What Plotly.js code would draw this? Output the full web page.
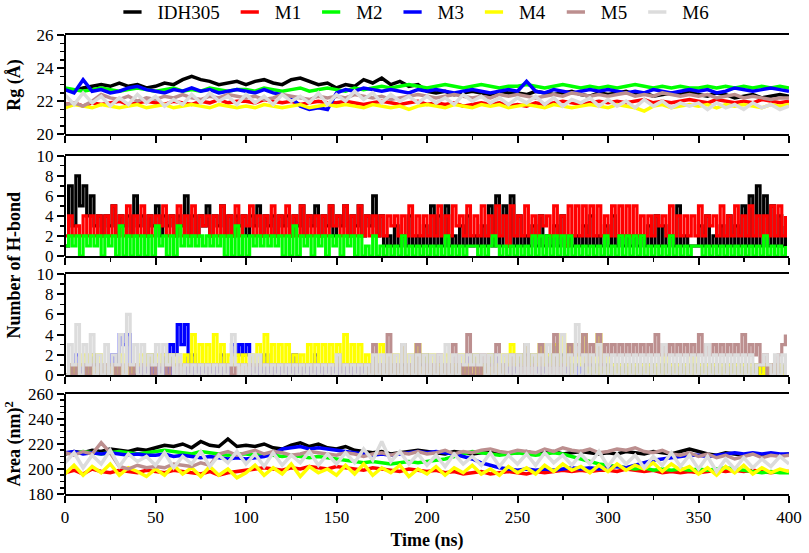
<!DOCTYPE html>
<html>
<head>
<meta charset="utf-8">
<script src="https://cdn.plot.ly/plotly-3.0.1.min.js"></script>
<style>
html, body { margin: 0; padding: 0; background: #fff; }
#chart { width: 809px; height: 553px; }
</style>
</head>
<body>
<div id="chart"></div>
<script>
var names = ['IDH305', 'M1', 'M2', 'M3', 'M4', 'M5', 'M6'];
var colors = ['#000000', '#ff0000', '#00ff00', '#0000ff', '#ffff00', '#bc8f8f', '#dcdcdc'];

// Rg (Å), one value every 5 ns, 0..400 ns
var rg_step = 5;
var rg_idh305 = [22.7,22.6,22.8,22.9,23.0,22.9,23.1,22.9,23.0,22.8,
                 22.9,23.1,23.0,23.3,23.5,23.3,23.2,23.0,23.1,23.2,
                 23.0,23.2,23.3,23.1,23.0,23.3,23.4,23.2,23.0,23.1,
                 22.8,23.0,22.9,23.3,23.1,23.4,23.0,23.2,22.9,23.0,
                 22.6,22.5,22.6,22.4,22.5,22.6,22.5,22.4,22.6,22.5,
                 22.5,22.4,22.6,22.5,22.4,22.5,22.6,22.4,22.3,22.5,
                 22.4,22.5,22.6,22.4,22.5,22.3,22.4,22.5,22.4,22.6,
                 22.4,22.3,22.5,22.4,22.2,22.3,22.4,22.2,22.3,22.4, 22.3];
var rg_m1 = [21.8,21.9,21.7,21.9,21.8,21.9,22.0,21.8,21.9,22.0,
             21.9,21.8,22.0,21.9,21.8,22.0,21.9,22.1,21.9,22.0,
             22.0,21.9,22.1,22.0,21.9,22.0,21.8,21.9,22.0,21.9,
             21.9,22.0,21.9,21.8,21.9,22.0,21.9,21.8,21.9,22.0,
             21.8,21.9,21.8,21.9,21.7,21.8,21.9,21.8,21.9,21.7,
             21.8,21.7,21.9,21.8,21.9,22.0,21.9,21.8,21.9,22.0,
             21.9,22.0,21.9,22.0,22.1,21.9,22.0,21.9,22.0,22.1,
             22.0,21.9,22.1,22.0,21.9,22.0,21.9,22.1,22.0,21.9, 22.0];
var rg_m2 = [22.8,22.7,22.6,22.7,22.8,22.7,22.6,22.7,22.8,22.7,
             22.6,22.7,22.8,22.6,22.7,22.6,22.8,22.7,22.6,22.7,
             22.7,22.6,22.8,22.7,22.6,22.7,22.8,22.6,22.7,22.8,
             22.7,22.6,22.8,22.7,22.8,22.9,22.8,22.9,23.0,22.9,
             22.8,22.9,23.0,22.9,22.8,22.9,23.0,22.9,22.8,22.9,
             22.9,23.0,22.9,22.8,22.9,23.0,22.9,22.8,22.9,22.8,
             22.9,22.8,22.9,23.0,22.9,22.8,22.9,22.8,22.9,22.8,
             22.8,22.9,22.8,22.9,22.8,22.9,22.8,22.9,22.8,22.9, 22.8];
var rg_m3 = [22.7,22.5,23.3,22.6,22.7,22.5,22.6,22.8,22.9,22.7,
             22.6,22.5,22.7,22.6,22.8,22.6,22.7,22.5,22.6,22.7,
             22.6,22.5,22.7,22.5,22.4,22.2,21.7,21.5,21.6,21.5,
             22.5,22.7,22.6,22.8,22.7,22.6,22.7,22.6,22.5,22.7,
             22.6,22.7,22.6,22.5,22.6,22.7,22.6,22.5,22.6,22.7,
             22.6,23.2,22.6,22.5,22.7,22.6,22.5,22.6,22.7,22.6,
             22.7,22.6,22.5,22.6,22.5,22.7,22.6,22.5,22.6,22.7,
             22.6,22.7,22.5,22.6,22.8,22.7,22.6,22.7,22.8,22.7, 22.6];
var rg_m4 = [21.6,21.8,21.7,21.6,21.8,21.7,21.6,21.7,21.8,21.6,
             21.7,21.8,21.6,21.7,21.8,21.7,21.6,21.8,21.7,21.6,
             21.7,21.6,21.8,21.7,21.6,21.7,21.8,21.6,21.7,21.8,
             21.7,21.8,21.7,21.6,21.8,21.7,21.6,21.7,21.5,21.7,
             21.8,21.7,21.6,21.8,21.7,21.6,21.8,21.7,21.8,21.6,
             21.7,21.8,21.7,21.6,21.8,21.7,21.6,21.7,21.8,21.7,
             21.6,21.8,21.7,21.6,21.4,21.7,21.8,21.6,21.7,21.8,
             21.7,21.8,21.6,21.8,21.7,21.8,21.7,21.6,21.8,21.7, 21.8];
var rg_m5 = [21.8,21.9,21.7,22.0,22.4,22.2,22.1,22.3,22.0,22.2,
             22.1,22.3,22.2,22.4,22.2,22.1,22.3,22.2,22.4,22.3,
             22.2,22.3,22.1,22.2,22.4,22.3,22.2,22.1,22.3,22.2,
             22.3,22.2,22.4,22.3,22.2,22.3,22.1,22.2,22.3,22.4,
             22.3,22.2,22.3,22.4,22.3,22.2,22.3,22.2,22.4,22.3,
             22.4,22.3,22.2,22.3,22.4,22.3,22.5,22.4,22.3,22.4,
             22.3,22.4,22.5,22.3,22.4,22.3,22.5,22.4,22.3,22.4,
             22.3,22.4,22.2,22.3,22.4,22.2,22.3,22.2,22.1,22.2, 22.2];
var rg_m6 = [22.4,21.8,22.5,21.9,22.3,21.7,22.2,21.8,22.4,21.9,
             22.3,21.7,22.1,21.8,22.4,21.9,22.5,22.0,22.3,21.8,
             22.4,21.9,22.3,21.8,22.4,22.0,22.3,21.9,22.5,21.8,
             22.4,22.0,22.6,22.1,22.5,21.9,22.4,22.0,22.3,21.9,
             22.3,21.9,22.2,21.8,22.4,22.0,22.3,21.9,22.2,21.8,
             22.2,21.9,22.3,21.8,22.2,21.7,22.1,21.9,22.2,21.7,
             22.1,21.7,22.0,21.6,22.1,21.7,22.0,21.6,21.9,21.7,
             21.9,21.5,21.9,21.6,21.8,21.5,21.9,21.6,21.8,21.5, 21.7];

// number of H-bonds, one digit per frame every 2 ns, 0..398 ns
var hb_step = 2;
var hb_idh305 = '1738574634 2435243426 3424352434 2436242435 2435242434 2435243424 3424352435 2435243524 3524362412 1312141213 ' +
                '1514151213 1412131516 1516141213 1412131412 1213141213 1412121212 1314131215 1211131412 1314131516 1716151413';
var hb_m1 = '2423242424 2425242524 2524243524 2524252434 2425242524 3524242524 2524252424 2425342524 2524242424 3424252424 ' +
            '2425242534 2524252425 2415242524 2434252415 2525252524 2525252524 2424342524 2424252434 2524252425 2424252524';
var hb_m2 = '1212021212 0212030202 0202031202 0312121212 1212020302 0212121212 0203021202 1202120212 0201020101 0102010101 ' +
            '0101020101 0111010121 0101010102 0202020202 0101010102 0102020202 0101010201 0101110101 0101010101 0102010101';
var hb_m3 = '0102010210 1012043410 0102010203 2535020101 0102013232 3101020101 0102010102 0101020101 0101020101 0101010212 ' +
            '0101010101 0212010212 0101021212 0102131201 0101010101 0101010101 0101010101 0101010101 0101010101 0101010101';
var hb_m4 = '0101120202 0101020101 1212121212 1212141313 1413121212 1213141313 1312121313 1313131413 1312020302 0203020302 ' +
            '0201020102 0102010201 0213121312 1312131413 0214020402 0101010101 0101020101 0102010101 0101010101 0101010101';
var hb_m5 = '0101010101 0101010101 0101010101 0101010101 0101010101 0101010101 0101010101 0101010101 0101030104 0103010301 ' +
            '0102010301 0401020103 0102010301 0301040103 2324132413 2323232323 2324232323 2323242323 2323232423 2312010234';
var hb_m6 = '0315031402 0302140613 0302130312 0201010101 0101014101 0202010101 0101010101 0101020101 0101020202 0203020202 ' +
            '0202030202 1212120202 0202020302 0203020402 0502020302 0202020202 0202030202 0202020302 0202020202 0112102020';

// solvent accessible area (nm)^2, one value every 5 ns, 0..400 ns
var area_step = 5;
var area_idh305 = [212,214,213,215,214,216,215,214,216,215,
                   217,219,218,220,217,222,219,218,224,218,
                   219,218,220,217,216,219,221,218,220,217,
                   216,218,215,214,213,214,212,213,214,215,
                   214,213,212,214,213,212,213,214,212,213,
                   213,214,212,213,214,212,213,214,213,212,
                   213,212,214,213,212,214,213,212,214,216,
                   214,212,211,213,212,211,212,211,212,211, 212];
var area_m1 = [197,199,196,200,198,197,199,198,197,199,
               198,197,199,198,197,196,198,195,197,198,
               199,200,201,200,199,201,200,202,201,200,
               202,201,200,199,201,200,199,198,200,199,
               198,199,197,198,196,197,198,196,197,198,
               197,196,198,197,198,199,198,199,198,199,
               199,198,200,199,198,199,197,198,197,198,
               197,198,199,198,199,198,199,198,197,198, 198];
var area_m2 = [213,212,214,213,212,213,214,213,212,213,
               214,215,214,213,212,214,213,212,211,212,
               212,211,212,211,210,211,210,209,210,209,
               208,207,206,205,206,205,204,205,206,205,
               206,207,208,210,212,214,213,212,211,212,
               213,212,211,212,213,212,210,208,206,204,
               203,202,201,200,201,199,200,199,200,199,
               200,199,200,201,200,199,198,197,198,197, 197];
var area_m3 = [213,214,212,213,212,213,212,211,212,211,
               211,212,210,211,210,209,210,209,208,209,
               208,209,210,212,216,217,218,216,217,216,
               215,214,213,212,211,212,211,212,213,214,
               213,214,213,212,210,208,205,203,201,200,
               199,200,199,200,199,200,201,200,201,200,
               201,202,201,203,205,207,208,209,210,211,
               211,210,211,212,213,212,213,212,213,212, 212];
var area_m4 = [196,203,195,202,197,204,195,201,198,194,
               200,195,203,196,201,194,202,195,200,193,
               197,203,195,201,196,204,194,202,197,200,
               195,203,196,204,195,201,197,203,194,200,
               196,202,195,201,197,203,196,200,195,202,
               197,201,196,203,198,204,199,202,197,203,
               198,204,199,203,200,205,198,204,199,202,
               196,201,195,202,197,203,196,201,197,200, 198];
var area_m5 = [213,211,214,212,221,213,202,200,203,201,
               202,201,204,203,202,205,203,212,214,211,
               213,215,212,214,213,211,212,214,213,212,
               211,213,212,210,212,213,211,213,212,214,
               212,213,215,212,214,213,215,216,214,213,
               215,214,213,216,214,217,215,214,216,213,
               214,216,215,217,214,213,215,212,211,213,
               210,212,209,211,208,210,212,209,211,210, 211];
var area_m6 = [205,213,201,211,204,215,202,212,206,210,
               203,213,201,210,204,214,202,211,205,214,
               204,212,202,213,203,211,205,214,203,212,
               204,213,205,216,207,222,206,214,204,212,
               203,211,202,212,204,210,203,213,202,211,
               204,212,203,213,205,211,203,212,204,214,
               202,212,204,211,201,210,203,213,202,211,
               200,210,198,208,200,209,201,208,202,210, 204];

var FONT = "'Liberation Serif', 'Times New Roman', Times, serif";

function times(n, step) {
    var t = [];
    for (var i = 0; i < n; i++) {
        t.push(i * step);
    }
    return t;
}

function digits(s) {
    return s.replace(/\s+/g, '').split('').map(Number);
}

function series(y, step, k, xa, ya, width, shape) {
    return {
        type: 'scatter', mode: 'lines',
        x: times(y.length, step), y: y,
        xaxis: xa, yaxis: ya,
        name: names[k],
        line: { color: colors[k], width: width, shape: shape || 'linear' },
        showlegend: false, hoverinfo: 'skip'
    };
}

var data = [];

var rg = [rg_idh305, rg_m1, rg_m2, rg_m3, rg_m4, rg_m5, rg_m6];
rg.forEach(function (y, k) { data.push(series(y, rg_step, k, 'x2', 'y', 3.5)); });

var hb_top = [hb_idh305, hb_m1, hb_m2];
hb_top.forEach(function (s, k) { data.push(series(digits(s), hb_step, k, 'x3', 'y2', 3.2, 'hv')); });

var hb_low = [hb_m3, hb_m4, hb_m5, hb_m6];
hb_low.forEach(function (s, k) { data.push(series(digits(s), hb_step, k + 3, 'x4', 'y3', 3.2, 'hv')); });

var area = [area_idh305, area_m1, area_m2, area_m3, area_m4, area_m5, area_m6];
area.forEach(function (y, k) { data.push(series(y, area_step, k, 'x', 'y4', 3.5)); });

// legend entries with a short dash symbol
names.forEach(function (n, k) {
    data.push({
        type: 'scatter', mode: 'markers', x: [null], y: [null],
        xaxis: 'x2', yaxis: 'y', name: n,
        marker: { symbol: 'line-ew', size: 13, color: colors[k], line: { color: colors[k], width: 3.5 } },
        showlegend: true, hoverinfo: 'skip'
    });
});

function xaxis(anchor, labels) {
    var a = {
        anchor: anchor, domain: [0, 1], range: [0, 400],
        tick0: 0, dtick: 50, ticks: 'outside', ticklen: 7, tickwidth: 2, tickcolor: '#000',
        minor: { dtick: 25, ticks: 'outside', ticklen: 4, tickwidth: 1.5, tickcolor: '#000', showgrid: false },
        showline: true, linewidth: 2, linecolor: '#000', mirror: true,
        showgrid: false, zeroline: false, showticklabels: labels,
        tickfont: { family: FONT, size: 17, color: '#000' }
    };
    if (anchor != 'y4') {
        a.matches = 'x';
    }
    return a;
}

function yaxis(domain, range, dtick, minor) {
    return {
        domain: domain, range: range, anchor: 'free', position: 0,
        tick0: range[0], dtick: dtick, ticks: 'outside', ticklen: 7, tickwidth: 2, tickcolor: '#000',
        minor: { dtick: minor, ticks: 'outside', ticklen: 4, tickwidth: 1.5, tickcolor: '#000', showgrid: false },
        showline: true, linewidth: 2, linecolor: '#000', mirror: true,
        showgrid: false, zeroline: false,
        tickfont: { family: FONT, size: 17, color: '#000' }
    };
}

var layout = {
    width: 809, height: 553,
    margin: { l: 65, r: 20, t: 35, b: 59 },
    paper_bgcolor: '#fff', plot_bgcolor: '#fff',
    font: { family: FONT, color: '#000' },
    showlegend: true,
    legend: {
        orientation: 'h', xref: 'container', yref: 'container',
        x: 0.508, xanchor: 'center', y: 0.978, yanchor: 'middle',
        font: { family: FONT, size: 19, color: '#000' },
        bgcolor: 'rgba(0,0,0,0)', itemwidth: 40
    },
    xaxis: Object.assign(xaxis('y4', true), {
        title: { text: '<b>Time (ns)</b>', font: { family: FONT, size: 18, color: '#000' }, standoff: 7 }
    }),
    xaxis2: xaxis('y', false),
    xaxis3: xaxis('y2', false),
    xaxis4: xaxis('y3', false),
    yaxis: yaxis([0.7837, 1], [20, 26], 2, 0.5),
    yaxis2: yaxis([0.5185, 0.737], [0, 10], 2, 1),
    yaxis3: yaxis([0.2593, 0.4793], [0, 10], 2, 1),
    yaxis4: yaxis([0, 0.2179], [180, 260], 20, 5),
    annotations: [
        { text: '<b>Rg (Å)</b>', xref: 'paper', yref: 'paper', x: -0.071, y: 0.891,
          textangle: -90, showarrow: false, xanchor: 'center', yanchor: 'middle',
          font: { family: FONT, size: 18, color: '#000' } },
        { text: '<b>Number of H-bond</b>', xref: 'paper', yref: 'paper', x: -0.071, y: 0.499,
          textangle: -90, showarrow: false, xanchor: 'center', yanchor: 'middle',
          font: { family: FONT, size: 18, color: '#000' } },
        { text: '<b>Area (nm)<sup>2</sup></b>', xref: 'paper', yref: 'paper', x: -0.071, y: 0.109,
          textangle: -90, showarrow: false, xanchor: 'center', yanchor: 'middle',
          font: { family: FONT, size: 18, color: '#000' } }
    ]
};

var config = { displayModeBar: false, staticPlot: true };
Plotly.newPlot('chart', data, layout, config);
</script>
</body>
</html>
